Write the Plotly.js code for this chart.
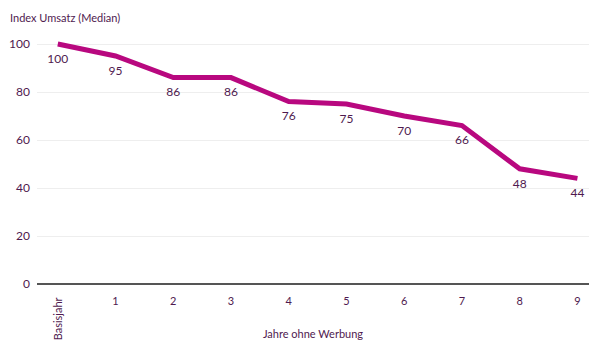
<!DOCTYPE html>
<html>
<head>
<meta charset="utf-8">
<script src="https://cdn.plot.ly/plotly-3.0.1.min.js"></script>
<style>
  html, body { margin: 0; padding: 0; background: #fff; }
  #chart { width: 589px; height: 340px; }
</style>
</head>
<body>
<div id="chart"></div>
<script>
// Umsatzentwicklung (Median-Index) nach Jahren ohne Werbung
const years = [0, 1, 2, 3, 4, 5, 6, 7, 8, 9];
const yearLabels = ['Basisjahr', '1', '2', '3', '4', '5', '6', '7', '8', '9'];
const indexValues = [100, 95, 86, 86, 76, 75, 70, 66, 48, 44];
const yTicks = [0, 20, 40, 60, 80, 100];

const textColor = '#4f1a4f';
const lineColor = '#b8087f';
const fontFamily = 'Lato, "Open Sans", sans-serif';

const trace = {
  x: years,
  y: indexValues,
  type: 'scatter',
  mode: 'lines+markers+text',
  line: { color: lineColor, width: 5 },
  // invisible markers only to push the value labels below the line
  marker: { size: 14, color: 'rgba(0,0,0,0)' },
  text: indexValues.map(String),
  textposition: 'bottom center',
  textfont: { family: fontFamily, size: 12, color: textColor },
  hoverinfo: 'skip',
  cliponaxis: false
};

// the first category ("Basisjahr") is written vertically, the rest horizontally
const tickText = yearLabels.map((t, i) => (i === 0 ? '' : t));

const layout = {
  width: 589,
  height: 340,
  margin: { l: 37, r: 0, t: 32, b: 56 },
  paper_bgcolor: '#fff',
  plot_bgcolor: '#fff',
  showlegend: false,
  font: { family: fontFamily, size: 12, color: textColor },
  xaxis: {
    range: [-0.36, 9.2],
    tickvals: years,
    ticktext: tickText,
    tickangle: 0,
    showgrid: false,
    zeroline: false,
    showline: false,
    ticks: '',
    ticklabelstandoff: 9,
    fixedrange: true,
    tickfont: { family: fontFamily, size: 11, color: textColor },
    title: { text: 'Jahre ohne Werbung', font: { family: fontFamily, size: 11, color: textColor }, standoff: 28 }
  },
  yaxis: {
    range: [0, 105],
    tickvals: yTicks,
    showgrid: true,
    gridcolor: '#eeeeee',
    gridwidth: 1,
    zeroline: true,
    zerolinecolor: '#555555',
    zerolinewidth: 2,
    showline: false,
    ticks: '',
    ticklabelstandoff: 6,
    fixedrange: true,
    tickfont: { family: fontFamily, size: 12, color: textColor }
  },
  annotations: [
    {
      text: 'Index Umsatz (Median)',
      xref: 'paper', yref: 'paper',
      x: 0, y: 1,
      xshift: -29, yshift: 15,
      xanchor: 'left', yanchor: 'middle',
      showarrow: false,
      font: { family: fontFamily, size: 11, color: textColor }
    },
    {
      text: yearLabels[0],
      xref: 'x', yref: 'paper',
      x: years[0], y: 0,
      yshift: -11,
      textangle: -90,
      xanchor: 'center', yanchor: 'top',
      showarrow: false,
      font: { family: fontFamily, size: 11, color: textColor }
    }
  ]
};

Plotly.newPlot('chart', [trace], layout, { displayModeBar: false, staticPlot: true });
</script>
</body>
</html>
